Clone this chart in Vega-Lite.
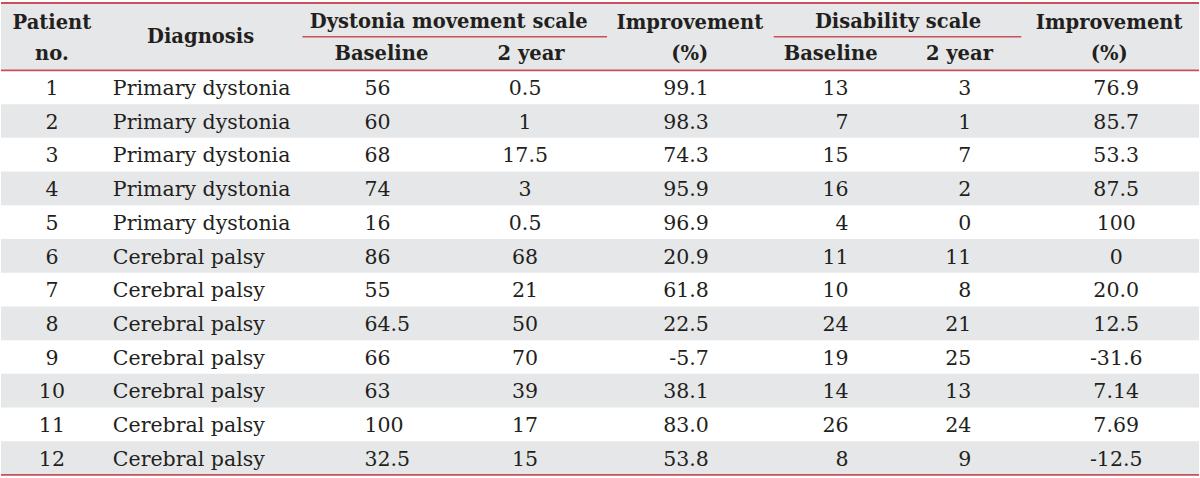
{
  "$schema": "https://vega.github.io/schema/vega-lite/v6.json",
  "width": 1200,
  "height": 478,
  "padding": 0,
  "autosize": {"type": "fit", "contains": "padding"},
  "background": "white",
  "config": {"view": {"stroke": null}},
  "datasets": {
    "body": [
      {"Patient": 1, "Diagnosis": "Primary dystonia", "DMS_base": "56", "DMS_2y": "0.5", "DMS_imp": "99.1", "DS_base": "13", "DS_2y": "3", "DS_imp": "76.9"},
      {"Patient": 2, "Diagnosis": "Primary dystonia", "DMS_base": "60", "DMS_2y": "1", "DMS_imp": "98.3", "DS_base": "7", "DS_2y": "1", "DS_imp": "85.7"},
      {"Patient": 3, "Diagnosis": "Primary dystonia", "DMS_base": "68", "DMS_2y": "17.5", "DMS_imp": "74.3", "DS_base": "15", "DS_2y": "7", "DS_imp": "53.3"},
      {"Patient": 4, "Diagnosis": "Primary dystonia", "DMS_base": "74", "DMS_2y": "3", "DMS_imp": "95.9", "DS_base": "16", "DS_2y": "2", "DS_imp": "87.5"},
      {"Patient": 5, "Diagnosis": "Primary dystonia", "DMS_base": "16", "DMS_2y": "0.5", "DMS_imp": "96.9", "DS_base": "4", "DS_2y": "0", "DS_imp": "100"},
      {"Patient": 6, "Diagnosis": "Cerebral palsy", "DMS_base": "86", "DMS_2y": "68", "DMS_imp": "20.9", "DS_base": "11", "DS_2y": "11", "DS_imp": "0"},
      {"Patient": 7, "Diagnosis": "Cerebral palsy", "DMS_base": "55", "DMS_2y": "21", "DMS_imp": "61.8", "DS_base": "10", "DS_2y": "8", "DS_imp": "20.0"},
      {"Patient": 8, "Diagnosis": "Cerebral palsy", "DMS_base": "64.5", "DMS_2y": "50", "DMS_imp": "22.5", "DS_base": "24", "DS_2y": "21", "DS_imp": "12.5"},
      {"Patient": 9, "Diagnosis": "Cerebral palsy", "DMS_base": "66", "DMS_2y": "70", "DMS_imp": "-5.7", "DS_base": "19", "DS_2y": "25", "DS_imp": "-31.6"},
      {"Patient": 10, "Diagnosis": "Cerebral palsy", "DMS_base": "63", "DMS_2y": "39", "DMS_imp": "38.1", "DS_base": "14", "DS_2y": "13", "DS_imp": "7.14"},
      {"Patient": 11, "Diagnosis": "Cerebral palsy", "DMS_base": "100", "DMS_2y": "17", "DMS_imp": "83.0", "DS_base": "26", "DS_2y": "24", "DS_imp": "7.69"},
      {"Patient": 12, "Diagnosis": "Cerebral palsy", "DMS_base": "32.5", "DMS_2y": "15", "DMS_imp": "53.8", "DS_base": "8", "DS_2y": "9", "DS_imp": "-12.5"}
    ],
    "headers": [
      {"line": "h1", "col": "Patient", "label": "Patient"},
      {"line": "h2", "col": "Patient", "label": "no."},
      {"line": "h1", "col": "Diagnosis", "label": "Diagnosis"},
      {"line": "h1", "col": "DMS_base", "label": "Dystonia movement scale"},
      {"line": "h2", "col": "DMS_base", "label": "Baseline"},
      {"line": "h2", "col": "DMS_2y", "label": "2 year"},
      {"line": "h1", "col": "DMS_imp", "label": "Improvement"},
      {"line": "h2", "col": "DMS_imp", "label": "(%)"},
      {"line": "h1", "col": "DS_base", "label": "Disability scale"},
      {"line": "h2", "col": "DS_base", "label": "Baseline"},
      {"line": "h2", "col": "DS_2y", "label": "2 year"},
      {"line": "h1", "col": "DS_imp", "label": "Improvement"},
      {"line": "h2", "col": "DS_imp", "label": "(%)"}
    ],
    "lines": [
      {"line": "h1", "kind": "top"},
      {"line": "h2", "kind": "head"},
      {"line": 12, "kind": "bottom"}
    ],
    "groups": [
      {"line": "h2", "from": "DMS_base", "to": "DMS_2y"},
      {"line": "h2", "from": "DS_base", "to": "DS_2y"}
    ]
  },
  "layer": [
    {
      "data": {"name": "headers"},
      "mark": {"type": "rect", "color": "#e6e7e8"},
      "encoding": {
        "y": {"field": "line", "type": "ordinal", "axis": null, "scale": {"type": "band", "domain": ["h1", "h2", 1, 2, 3, 4, 5, 6, 7, 8, 9, 10, 11, 12], "paddingInner": 0, "paddingOuter": 0.09}}
      }
    },
    {
      "data": {"name": "body"},
      "transform": [{"filter": "datum.Patient % 2 == 0"}],
      "mark": {"type": "rect", "color": "#e6e7e8"},
      "encoding": {
        "y": {"field": "Patient", "type": "ordinal", "axis": null, "scale": {"type": "band", "domain": ["h1", "h2", 1, 2, 3, 4, 5, 6, 7, 8, 9, 10, 11, 12], "paddingInner": 0, "paddingOuter": 0.09}}
      }
    },
    {
      "data": {"name": "lines"},
      "transform": [{"filter": "datum.kind == 'top'"}],
      "mark": {"type": "rule", "color": "#c8505a", "strokeWidth": 2},
      "encoding": {
        "y": {"field": "line", "type": "ordinal", "bandPosition": 0, "axis": null, "scale": {"type": "band", "domain": ["h1", "h2", 1, 2, 3, 4, 5, 6, 7, 8, 9, 10, 11, 12], "paddingInner": 0, "paddingOuter": 0.09}}
      }
    },
    {
      "data": {"name": "lines"},
      "transform": [{"filter": "datum.kind != 'top'"}],
      "mark": {"type": "rule", "color": "#c8505a", "strokeWidth": 1.7},
      "encoding": {
        "y": {"field": "line", "type": "ordinal", "bandPosition": 1, "axis": null, "scale": {"type": "band", "domain": ["h1", "h2", 1, 2, 3, 4, 5, 6, 7, 8, 9, 10, 11, 12], "paddingInner": 0, "paddingOuter": 0.09}}
      }
    },
    {
      "data": {"name": "groups"},
      "transform": [{"filter": "datum.from == 'DMS_base'"}],
      "mark": {"type": "rule", "color": "#c8505a", "strokeWidth": 1.6},
      "encoding": {
        "x": {"field": "from", "type": "nominal", "bandPosition": 0.013, "axis": null, "scale": {"type": "band", "domain": ["Patient", "Diagnosis", "DMS_base", "DMS_2y", "DMS_imp", "DS_base", "DS_2y", "DS_imp"], "paddingInner": 0, "paddingOuter": 0}},
        "x2": {"field": "to", "bandPosition": 1.047},
        "y": {"field": "line", "type": "ordinal", "bandPosition": 0, "axis": null, "scale": {"type": "band", "domain": ["h1", "h2", 1, 2, 3, 4, 5, 6, 7, 8, 9, 10, 11, 12], "paddingInner": 0, "paddingOuter": 0.09}}
      }
    },
    {
      "data": {"name": "groups"},
      "transform": [{"filter": "datum.from == 'DS_base'"}],
      "mark": {"type": "rule", "color": "#c8505a", "strokeWidth": 1.6},
      "encoding": {
        "x": {"field": "from", "type": "nominal", "bandPosition": 0.16, "axis": null, "scale": {"type": "band", "domain": ["Patient", "Diagnosis", "DMS_base", "DMS_2y", "DMS_imp", "DS_base", "DS_2y", "DS_imp"], "paddingInner": 0, "paddingOuter": 0}},
        "x2": {"field": "to", "bandPosition": 0.813},
        "y": {"field": "line", "type": "ordinal", "bandPosition": 0, "axis": null, "scale": {"type": "band", "domain": ["h1", "h2", 1, 2, 3, 4, 5, 6, 7, 8, 9, 10, 11, 12], "paddingInner": 0, "paddingOuter": 0.09}}
      }
    },
    {
      "data": {"name": "headers"},
      "transform": [{"filter": "datum.col == 'Patient' && datum.line == 'h1'"}],
      "mark": {"type": "text", "font": "DejaVu Serif", "fontWeight": "bold", "fontSize": 19.5, "color": "#231f20", "align": "center", "baseline": "middle"},
      "encoding": {
        "x": {"field": "col", "type": "nominal", "bandPosition": 0.34, "axis": null, "scale": {"type": "band", "domain": ["Patient", "Diagnosis", "DMS_base", "DMS_2y", "DMS_imp", "DS_base", "DS_2y", "DS_imp"], "paddingInner": 0, "paddingOuter": 0}},
        "y": {"field": "line", "type": "ordinal", "bandPosition": 0.6, "axis": null, "scale": {"type": "band", "domain": ["h1", "h2", 1, 2, 3, 4, 5, 6, 7, 8, 9, 10, 11, 12], "paddingInner": 0, "paddingOuter": 0.09}},
        "text": {"field": "label"}
      }
    },
    {
      "data": {"name": "headers"},
      "transform": [{"filter": "datum.col == 'Patient' && datum.line == 'h2'"}],
      "mark": {"type": "text", "font": "DejaVu Serif", "fontWeight": "bold", "fontSize": 19.5, "color": "#231f20", "align": "center", "baseline": "middle"},
      "encoding": {
        "x": {"field": "col", "type": "nominal", "bandPosition": 0.34, "axis": null, "scale": {"type": "band", "domain": ["Patient", "Diagnosis", "DMS_base", "DMS_2y", "DMS_imp", "DS_base", "DS_2y", "DS_imp"], "paddingInner": 0, "paddingOuter": 0}},
        "y": {"field": "line", "type": "ordinal", "bandPosition": 0.5, "axis": null, "scale": {"type": "band", "domain": ["h1", "h2", 1, 2, 3, 4, 5, 6, 7, 8, 9, 10, 11, 12], "paddingInner": 0, "paddingOuter": 0.09}},
        "text": {"field": "label"}
      }
    },
    {
      "data": {"name": "headers"},
      "transform": [{"filter": "datum.col == 'Diagnosis'"}],
      "mark": {"type": "text", "font": "DejaVu Serif", "fontWeight": "bold", "fontSize": 19.5, "color": "#231f20", "align": "center", "baseline": "middle"},
      "encoding": {
        "x": {"field": "col", "type": "nominal", "bandPosition": 0.333, "axis": null, "scale": {"type": "band", "domain": ["Patient", "Diagnosis", "DMS_base", "DMS_2y", "DMS_imp", "DS_base", "DS_2y", "DS_imp"], "paddingInner": 0, "paddingOuter": 0}},
        "y": {"field": "line", "type": "ordinal", "bandPosition": 1, "axis": null, "scale": {"type": "band", "domain": ["h1", "h2", 1, 2, 3, 4, 5, 6, 7, 8, 9, 10, 11, 12], "paddingInner": 0, "paddingOuter": 0.09}},
        "text": {"field": "label"}
      }
    },
    {
      "data": {"name": "headers"},
      "transform": [{"filter": "datum.line == 'h2' && (datum.col == 'DMS_base' || datum.col == 'DMS_2y' || datum.col == 'DS_base')"}],
      "mark": {"type": "text", "font": "DejaVu Serif", "fontWeight": "bold", "fontSize": 19.5, "color": "#231f20", "align": "center", "baseline": "middle"},
      "encoding": {
        "x": {"field": "col", "type": "nominal", "bandPosition": 0.54, "axis": null, "scale": {"type": "band", "domain": ["Patient", "Diagnosis", "DMS_base", "DMS_2y", "DMS_imp", "DS_base", "DS_2y", "DS_imp"], "paddingInner": 0, "paddingOuter": 0}},
        "y": {"field": "line", "type": "ordinal", "bandPosition": 0.5, "axis": null, "scale": {"type": "band", "domain": ["h1", "h2", 1, 2, 3, 4, 5, 6, 7, 8, 9, 10, 11, 12], "paddingInner": 0, "paddingOuter": 0.09}},
        "text": {"field": "label"}
      }
    },
    {
      "data": {"name": "headers"},
      "transform": [{"filter": "datum.col == 'DMS_imp' && datum.line == 'h1'"}],
      "mark": {"type": "text", "font": "DejaVu Serif", "fontWeight": "bold", "fontSize": 19.5, "color": "#231f20", "align": "center", "baseline": "middle"},
      "encoding": {
        "x": {"field": "col", "type": "nominal", "bandPosition": 0.6, "axis": null, "scale": {"type": "band", "domain": ["Patient", "Diagnosis", "DMS_base", "DMS_2y", "DMS_imp", "DS_base", "DS_2y", "DS_imp"], "paddingInner": 0, "paddingOuter": 0}},
        "y": {"field": "line", "type": "ordinal", "bandPosition": 0.6, "axis": null, "scale": {"type": "band", "domain": ["h1", "h2", 1, 2, 3, 4, 5, 6, 7, 8, 9, 10, 11, 12], "paddingInner": 0, "paddingOuter": 0.09}},
        "text": {"field": "label"}
      }
    },
    {
      "data": {"name": "headers"},
      "transform": [{"filter": "datum.col == 'DMS_imp' && datum.line == 'h2'"}],
      "mark": {"type": "text", "font": "DejaVu Serif", "fontWeight": "bold", "fontSize": 19.5, "color": "#231f20", "align": "center", "baseline": "middle"},
      "encoding": {
        "x": {"field": "col", "type": "nominal", "bandPosition": 0.6, "axis": null, "scale": {"type": "band", "domain": ["Patient", "Diagnosis", "DMS_base", "DMS_2y", "DMS_imp", "DS_base", "DS_2y", "DS_imp"], "paddingInner": 0, "paddingOuter": 0}},
        "y": {"field": "line", "type": "ordinal", "bandPosition": 0.5, "axis": null, "scale": {"type": "band", "domain": ["h1", "h2", 1, 2, 3, 4, 5, 6, 7, 8, 9, 10, 11, 12], "paddingInner": 0, "paddingOuter": 0.09}},
        "text": {"field": "label"}
      }
    },
    {
      "data": {"name": "headers"},
      "transform": [{"filter": "(datum.col == 'DS_2y' || datum.col == 'DS_imp') && datum.line == 'h2'"}],
      "mark": {"type": "text", "font": "DejaVu Serif", "fontWeight": "bold", "fontSize": 19.5, "color": "#231f20", "align": "center", "baseline": "middle"},
      "encoding": {
        "x": {"field": "col", "type": "nominal", "bandPosition": 0.4, "axis": null, "scale": {"type": "band", "domain": ["Patient", "Diagnosis", "DMS_base", "DMS_2y", "DMS_imp", "DS_base", "DS_2y", "DS_imp"], "paddingInner": 0, "paddingOuter": 0}},
        "y": {"field": "line", "type": "ordinal", "bandPosition": 0.5, "axis": null, "scale": {"type": "band", "domain": ["h1", "h2", 1, 2, 3, 4, 5, 6, 7, 8, 9, 10, 11, 12], "paddingInner": 0, "paddingOuter": 0.09}},
        "text": {"field": "label"}
      }
    },
    {
      "data": {"name": "headers"},
      "transform": [{"filter": "datum.col == 'DS_imp' && datum.line == 'h1'"}],
      "mark": {"type": "text", "font": "DejaVu Serif", "fontWeight": "bold", "fontSize": 19.5, "color": "#231f20", "align": "center", "baseline": "middle"},
      "encoding": {
        "x": {"field": "col", "type": "nominal", "bandPosition": 0.4, "axis": null, "scale": {"type": "band", "domain": ["Patient", "Diagnosis", "DMS_base", "DMS_2y", "DMS_imp", "DS_base", "DS_2y", "DS_imp"], "paddingInner": 0, "paddingOuter": 0}},
        "y": {"field": "line", "type": "ordinal", "bandPosition": 0.6, "axis": null, "scale": {"type": "band", "domain": ["h1", "h2", 1, 2, 3, 4, 5, 6, 7, 8, 9, 10, 11, 12], "paddingInner": 0, "paddingOuter": 0.09}},
        "text": {"field": "label"}
      }
    },
    {
      "data": {"name": "headers"},
      "transform": [{"filter": "datum.line == 'h1' && (datum.col == 'DMS_base' || datum.col == 'DS_base')"}],
      "mark": {"type": "text", "font": "DejaVu Serif", "fontWeight": "bold", "fontSize": 19.5, "color": "#231f20", "align": "center", "baseline": "middle"},
      "encoding": {
        "x": {"field": "col", "type": "nominal", "bandPosition": 0.99, "axis": null, "scale": {"type": "band", "domain": ["Patient", "Diagnosis", "DMS_base", "DMS_2y", "DMS_imp", "DS_base", "DS_2y", "DS_imp"], "paddingInner": 0, "paddingOuter": 0}},
        "y": {"field": "line", "type": "ordinal", "bandPosition": 0.55, "axis": null, "scale": {"type": "band", "domain": ["h1", "h2", 1, 2, 3, 4, 5, 6, 7, 8, 9, 10, 11, 12], "paddingInner": 0, "paddingOuter": 0.09}},
        "text": {"field": "label"}
      }
    },
    {
      "data": {"name": "body"},
      "transform": [{"fold": ["Patient"], "as": ["col", "value"]}],
      "mark": {"type": "text", "font": "DejaVu Serif", "fontSize": 20.5, "color": "#231f20", "align": "center", "baseline": "middle"},
      "encoding": {
        "x": {"field": "col", "type": "nominal", "bandPosition": 0.34, "axis": null, "scale": {"type": "band", "domain": ["Patient", "Diagnosis", "DMS_base", "DMS_2y", "DMS_imp", "DS_base", "DS_2y", "DS_imp"], "paddingInner": 0, "paddingOuter": 0}},
        "y": {"field": "Patient", "type": "ordinal", "bandPosition": 0.55, "axis": null, "scale": {"type": "band", "domain": ["h1", "h2", 1, 2, 3, 4, 5, 6, 7, 8, 9, 10, 11, 12], "paddingInner": 0, "paddingOuter": 0.09}},
        "text": {"field": "value"}
      }
    },
    {
      "data": {"name": "body"},
      "transform": [{"fold": ["Diagnosis"], "as": ["col", "value"]}],
      "mark": {"type": "text", "font": "DejaVu Serif", "fontSize": 20.5, "color": "#231f20", "align": "left", "baseline": "middle"},
      "encoding": {
        "x": {"field": "col", "type": "nominal", "bandPosition": -0.253, "axis": null, "scale": {"type": "band", "domain": ["Patient", "Diagnosis", "DMS_base", "DMS_2y", "DMS_imp", "DS_base", "DS_2y", "DS_imp"], "paddingInner": 0, "paddingOuter": 0}},
        "y": {"field": "Patient", "type": "ordinal", "bandPosition": 0.55, "axis": null, "scale": {"type": "band", "domain": ["h1", "h2", 1, 2, 3, 4, 5, 6, 7, 8, 9, 10, 11, 12], "paddingInner": 0, "paddingOuter": 0.09}},
        "text": {"field": "value"}
      }
    },
    {
      "data": {"name": "body"},
      "transform": [{"fold": ["DMS_base"], "as": ["col", "value"]}],
      "mark": {"type": "text", "font": "DejaVu Serif", "fontSize": 20.5, "color": "#231f20", "align": "left", "baseline": "middle"},
      "encoding": {
        "x": {"field": "col", "type": "nominal", "bandPosition": 0.427, "axis": null, "scale": {"type": "band", "domain": ["Patient", "Diagnosis", "DMS_base", "DMS_2y", "DMS_imp", "DS_base", "DS_2y", "DS_imp"], "paddingInner": 0, "paddingOuter": 0}},
        "y": {"field": "Patient", "type": "ordinal", "bandPosition": 0.55, "axis": null, "scale": {"type": "band", "domain": ["h1", "h2", 1, 2, 3, 4, 5, 6, 7, 8, 9, 10, 11, 12], "paddingInner": 0, "paddingOuter": 0.09}},
        "text": {"field": "value"}
      }
    },
    {
      "data": {"name": "body"},
      "transform": [{"fold": ["DMS_2y"], "as": ["col", "value"]}],
      "mark": {"type": "text", "font": "DejaVu Serif", "fontSize": 20.5, "color": "#231f20", "align": "center", "baseline": "middle"},
      "encoding": {
        "x": {"field": "col", "type": "nominal", "bandPosition": 0.5, "axis": null, "scale": {"type": "band", "domain": ["Patient", "Diagnosis", "DMS_base", "DMS_2y", "DMS_imp", "DS_base", "DS_2y", "DS_imp"], "paddingInner": 0, "paddingOuter": 0}},
        "y": {"field": "Patient", "type": "ordinal", "bandPosition": 0.55, "axis": null, "scale": {"type": "band", "domain": ["h1", "h2", 1, 2, 3, 4, 5, 6, 7, 8, 9, 10, 11, 12], "paddingInner": 0, "paddingOuter": 0.09}},
        "text": {"field": "value"}
      }
    },
    {
      "data": {"name": "body"},
      "transform": [{"fold": ["DMS_imp"], "as": ["col", "value"]}],
      "mark": {"type": "text", "font": "DejaVu Serif", "fontSize": 20.5, "color": "#231f20", "align": "right", "baseline": "middle"},
      "encoding": {
        "x": {"field": "col", "type": "nominal", "bandPosition": 0.727, "axis": null, "scale": {"type": "band", "domain": ["Patient", "Diagnosis", "DMS_base", "DMS_2y", "DMS_imp", "DS_base", "DS_2y", "DS_imp"], "paddingInner": 0, "paddingOuter": 0}},
        "y": {"field": "Patient", "type": "ordinal", "bandPosition": 0.55, "axis": null, "scale": {"type": "band", "domain": ["h1", "h2", 1, 2, 3, 4, 5, 6, 7, 8, 9, 10, 11, 12], "paddingInner": 0, "paddingOuter": 0.09}},
        "text": {"field": "value"}
      }
    },
    {
      "data": {"name": "body"},
      "transform": [{"fold": ["DS_base"], "as": ["col", "value"]}],
      "mark": {"type": "text", "font": "DejaVu Serif", "fontSize": 20.5, "color": "#231f20", "align": "right", "baseline": "middle"},
      "encoding": {
        "x": {"field": "col", "type": "nominal", "bandPosition": 0.66, "axis": null, "scale": {"type": "band", "domain": ["Patient", "Diagnosis", "DMS_base", "DMS_2y", "DMS_imp", "DS_base", "DS_2y", "DS_imp"], "paddingInner": 0, "paddingOuter": 0}},
        "y": {"field": "Patient", "type": "ordinal", "bandPosition": 0.55, "axis": null, "scale": {"type": "band", "domain": ["h1", "h2", 1, 2, 3, 4, 5, 6, 7, 8, 9, 10, 11, 12], "paddingInner": 0, "paddingOuter": 0.09}},
        "text": {"field": "value"}
      }
    },
    {
      "data": {"name": "body"},
      "transform": [{"fold": ["DS_2y"], "as": ["col", "value"]}],
      "mark": {"type": "text", "font": "DejaVu Serif", "fontSize": 20.5, "color": "#231f20", "align": "right", "baseline": "middle"},
      "encoding": {
        "x": {"field": "col", "type": "nominal", "bandPosition": 0.48, "axis": null, "scale": {"type": "band", "domain": ["Patient", "Diagnosis", "DMS_base", "DMS_2y", "DMS_imp", "DS_base", "DS_2y", "DS_imp"], "paddingInner": 0, "paddingOuter": 0}},
        "y": {"field": "Patient", "type": "ordinal", "bandPosition": 0.55, "axis": null, "scale": {"type": "band", "domain": ["h1", "h2", 1, 2, 3, 4, 5, 6, 7, 8, 9, 10, 11, 12], "paddingInner": 0, "paddingOuter": 0.09}},
        "text": {"field": "value"}
      }
    },
    {
      "data": {"name": "body"},
      "transform": [{"fold": ["DS_imp"], "as": ["col", "value"]}],
      "mark": {"type": "text", "font": "DejaVu Serif", "fontSize": 20.5, "color": "#231f20", "align": "center", "baseline": "middle"},
      "encoding": {
        "x": {"field": "col", "type": "nominal", "bandPosition": 0.447, "axis": null, "scale": {"type": "band", "domain": ["Patient", "Diagnosis", "DMS_base", "DMS_2y", "DMS_imp", "DS_base", "DS_2y", "DS_imp"], "paddingInner": 0, "paddingOuter": 0}},
        "y": {"field": "Patient", "type": "ordinal", "bandPosition": 0.55, "axis": null, "scale": {"type": "band", "domain": ["h1", "h2", 1, 2, 3, 4, 5, 6, 7, 8, 9, 10, 11, 12], "paddingInner": 0, "paddingOuter": 0.09}},
        "text": {"field": "value"}
      }
    }
  ]
}
